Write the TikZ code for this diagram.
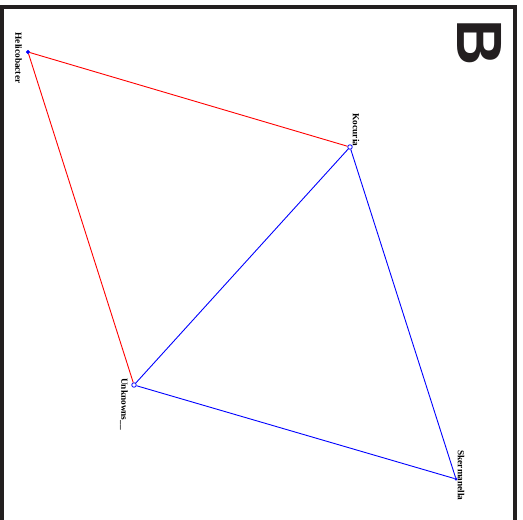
\documentclass[tikz,border=0pt]{standalone}
\usepackage{fontspec}
\setmainfont{Liberation Serif}
\newfontfamily\bigsans{Liberation Sans}
\definecolor{framec}{RGB}{35,31,32}
\tikzset{
  lab/.style={font=\fontsize{9.3}{10}\selectfont\bfseries, rotate=-90, inner sep=0pt, anchor=center},
  dotfill/.style={circle, fill=blue, draw=blue, inner sep=0pt, minimum size=3.5pt},
  dotopen/.style={circle, fill=white, draw=blue, line width=0.8pt, inner sep=0pt, minimum size=4.5pt},
  redge/.style={red, line width=0.9pt},
  bedge/.style={blue, line width=0.9pt}
}
\begin{document}
\begin{tikzpicture}[x=1pt,y=-1pt]
\useasboundingbox (0,0) rectangle (523,520);
\fill[white] (0,0) rectangle (523,520);
\draw[framec, line width=4pt] (1.5,530) -- (1.5,7) -- (515,7) -- (515,530);
\node[rotate=-90, font=\bigsans\fontsize{64}{64}\selectfont\bfseries, text=framec, inner sep=0pt] (B) at (480,42.5) {B};
% nodes
\node[dotfill] (hel) at (28,52) {};
\node[dotopen] (koc) at (350,147) {};
\node[dotopen] (unk) at (134,385) {};
\node[dotfill, minimum size=2.5pt] (ske) at (456,479) {};
% edges
\draw[redge] (hel) -- (koc);
\draw[redge] (hel) -- (unk);
\draw[bedge] (koc) -- (unk);
\draw[bedge] (koc) -- (ske);
\draw[bedge] (unk) -- (ske);
% labels
\node[lab] (lhel) at (18.5,58) {Helicobacter};
\node[lab] (lkoc) at (356,130) {Kocuria};
\node[lab] (lunk) at (124,404) {Unknowns\_\_};
\node[lab] (lske) at (461,475.5) {Skermanella};
\end{tikzpicture}
\end{document}
